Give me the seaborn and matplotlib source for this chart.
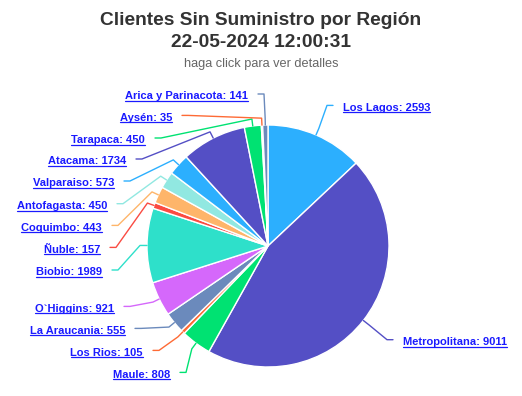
import numpy as np
import matplotlib.pyplot as plt
from matplotlib.lines import Line2D
import seaborn as sns

# Datos
regiones = ['Los Lagos', 'Metropolitana', 'Maule', 'Los Rios', 'La Araucania',
            'O`Higgins', 'Biobio', 'Ñuble', 'Coquimbo', 'Antofagasta',
            'Valparaiso', 'Atacama', 'Tarapaca', 'Aysén', 'Arica y Parinacota']
clientes = [2593, 9011, 808, 105, 555, 921, 1989, 157, 443, 450, 573, 1734, 450, 35, 141]

titulo = 'Clientes Sin Suministro por Región'
fecha = '22-05-2024 12:00:31'
subtitulo = 'haga click para ver detalles'

# paleta tipo highcharts
paleta = ['#2caffe', '#544fc5', '#00e272', '#fe6a35', '#6b8abc',
          '#d568fb', '#2ee0ca', '#fa4b42', '#feb56a', '#91e8e1']
colores = [paleta[i % len(paleta)] for i in range(len(regiones))]

# posiciones de etiquetas en pixeles (x del borde, linea base y), alineacion
pos_etiquetas = [(343, 110.7, 'left'), (403, 345, 'left'), (170, 377.7, 'right'),
                 (143, 355.7, 'right'), (125, 333.7, 'right'), (114, 311.7, 'right'),
                 (102, 275.3, 'right'), (100, 252.7, 'right'), (102, 230.7, 'right'),
                 (107, 209, 'right'), (114, 186.3, 'right'), (126, 164.3, 'right'),
                 (145, 143.3, 'right'), (172, 120.7, 'right'), (248, 99.3, 'right')]

sns.set_theme(style='white')
plt.rcParams['font.family'] = ['Liberation Sans', 'DejaVu Sans']

W, H = 522, 396
cx, cy, R = 268, 246, 121
fig = plt.figure(figsize=(W / 100, H / 100), dpi=100)
fig.patch.set_facecolor('white')

ax = fig.add_axes([(cx - R) / W, 1 - (cy + R) / H, 2 * R / W, 2 * R / H])
wedges, _ = ax.pie(clientes, colors=colores, startangle=90, counterclock=False,
                   radius=1, wedgeprops=dict(edgecolor='white', linewidth=1))
ax.set_xlim(-1, 1)
ax.set_ylim(-1, 1)
ax.axis('off')

fig.text(0.5, 1 - 25 / H, titulo, ha='center', va='baseline', fontsize=13.8,
         fontweight='bold', color='#333333')
fig.text(0.5, 1 - 46.7 / H, fecha, ha='center', va='baseline', fontsize=13.8,
         fontweight='bold', color='#333333')
fig.text(0.5, 1 - 66.5 / H, subtitulo, ha='center', va='baseline', fontsize=9.2,
         color='#666666')

color_link = '#1a1aff'
textos = []
for w, reg, val, col, (lx, ly, lado) in zip(wedges, regiones, clientes, colores, pos_etiquetas):
    t = fig.text(lx / W, 1 - ly / H, f'{reg}: {val}', ha=lado, va='baseline',
                 fontsize=8.06, fontweight='bold', color=color_link)
    textos.append((t, ly))

    # conector: label -> tramo horizontal -> quiebre -> borde del sector
    mid = np.deg2rad((w.theta1 + w.theta2) / 2)
    toca = ax.transData.transform((np.cos(mid), np.sin(mid)))
    k = 1 + 7 / R
    corte = ax.transData.transform((np.cos(mid) * k, np.sin(mid) * k))
    sy = H - ly + 5.3
    if lado == 'right':
        sx, hx = lx + 10, lx + 16
    else:
        sx, hx = lx - 10, lx - 16
    xs = np.array([sx, hx, corte[0], toca[0]]) / W
    ys = np.array([sy, sy, corte[1], toca[1]]) / H
    fig.add_artist(Line2D(xs, ys, color=col, lw=1, transform=fig.transFigure))

# subrayado de etiquetas
fig.canvas.draw()
for t, ly in textos:
    bb = t.get_window_extent()
    yy = (H - ly - 1.5) / H
    fig.add_artist(Line2D([bb.x0 / W, bb.x1 / W], [yy, yy], color=color_link, lw=0.9,
                          transform=fig.transFigure))

plt.savefig('out.png', dpi=100, facecolor='white')
plt.close()
